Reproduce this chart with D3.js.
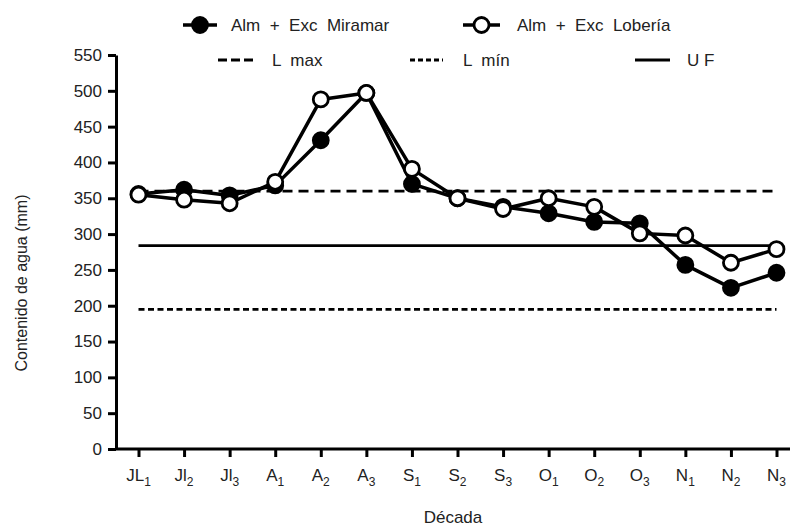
<!DOCTYPE html>
<html>
<head>
<meta charset="utf-8">
<script src="https://cdn.jsdelivr.net/npm/d3@7"></script>
<style>
  body { margin: 0; background: #fff; }
  text { font-family: "Liberation Sans Narrow", "Arial Narrow", "Liberation Sans", sans-serif; fill: #222; }
</style>
</head>
<body>
<div id="chart"></div>
<script>
// decades: [base letter, subscript]
const decadas = [["JL", "1"], ["Jl", "2"], ["Jl", "3"], ["A", "1"], ["A", "2"], ["A", "3"],
  ["S", "1"], ["S", "2"], ["S", "3"], ["O", "1"], ["O", "2"], ["O", "3"], ["N", "1"], ["N", "2"], ["N", "3"]];
const miramar = [356, 362, 354, 368, 431, 497, 370, 350, 338, 329, 317, 315, 257, 225, 246];
const loberia = [355, 348, 343, 373, 488, 497, 391, 350, 335, 350, 338, 301, 298, 260, 279];
const lMax = 360;
const lMin = 195;
const uf = 284;
const yTicks = [0, 50, 100, 150, 200, 250, 300, 350, 400, 450, 500, 550];

const width = 793, height = 527;
const margin = { top: 55, right: 3, bottom: 78, left: 116 };

const svg = d3.select("#chart").append("svg")
  .attr("width", width)
  .attr("height", height);

const keys = decadas.map((d) => d[0] + d[1]);

const x = d3.scalePoint()
  .domain(keys)
  .range([138.5, 776.5]);

const y = d3.scaleLinear()
  .domain([0, 550])
  .range([height - margin.bottom, margin.top]);

// reference lines
const refs = [
  { v: lMax, dash: "10,6" },
  { v: uf, dash: null },
  { v: lMin, dash: "6,3.5" },
];
svg.append("g").selectAll("line")
  .data(refs)
  .enter()
  .append("line")
  .attr("x1", x(keys[0]))
  .attr("x2", x(keys[keys.length - 1]))
  .attr("y1", (d) => y(d.v))
  .attr("y2", (d) => y(d.v))
  .attr("stroke", "#000")
  .attr("stroke-width", 2.8)
  .attr("stroke-dasharray", (d) => d.dash);

// axes
const yAxis = svg.append("g")
  .attr("transform", `translate(${margin.left},0)`)
  .call(d3.axisLeft(y).tickValues(yTicks).tickSize(8).tickSizeOuter(0).tickPadding(6));

const xAxis = svg.append("g")
  .attr("transform", `translate(0,${y(0)})`)
  .call(d3.axisBottom(x).tickSize(8).tickSizeOuter(0).tickFormat(() => ""));

xAxis.select(".domain").attr("d", `M${margin.left},0H${width - margin.right}`);

[yAxis, xAxis].forEach((g) => {
  g.select(".domain").attr("stroke-width", 3).attr("stroke", "#000");
  g.selectAll(".tick line").attr("stroke-width", 3).attr("stroke", "#000");
});
yAxis.selectAll(".tick text")
  .attr("font-size", 17)
  .attr("fill", "#222")
  .style("font-family", "'Liberation Sans Narrow', 'Arial Narrow', sans-serif");

// x labels with subscripts
const xl = svg.append("g").selectAll("text")
  .data(decadas)
  .enter()
  .append("text")
  .attr("x", (d) => x(d[0] + d[1]))
  .attr("y", y(0) + 32)
  .attr("text-anchor", "middle")
  .attr("font-size", 17);
xl.append("tspan").text((d) => d[0]);
xl.append("tspan").attr("dy", 5).attr("font-size", 12).text((d) => d[1]);

// axis titles
svg.append("text")
  .attr("x", (margin.left + width - margin.right) / 2)
  .attr("y", 523)
  .attr("text-anchor", "middle")
  .attr("font-size", 17)
  .text("Década");

svg.append("text")
  .attr("transform", "translate(27,283) rotate(-90)")
  .attr("text-anchor", "middle")
  .attr("font-size", 16)
  .text("Contenido de agua (mm)");

// series
const line = d3.line()
  .x((d, i) => x(keys[i]))
  .y((d) => y(d));

const series = [
  { values: miramar, fill: "#000" },
  { values: loberia, fill: "#fff" },
];

series.forEach((s) => {
  svg.append("path")
    .datum(s.values)
    .attr("d", line)
    .attr("fill", "none")
    .attr("stroke", "#000")
    .attr("stroke-width", 3.5)
    .attr("stroke-linejoin", "round");
  svg.append("g").selectAll("circle")
    .data(s.values)
    .enter()
    .append("circle")
    .attr("cx", (d, i) => x(keys[i]))
    .attr("cy", (d) => y(d))
    .attr("r", 7.5)
    .attr("fill", s.fill)
    .attr("stroke", "#000")
    .attr("stroke-width", 2.8);
});

// legend
const legend = svg.append("g");
const legendRows = [
  { x1: 183, x2: 217, y: 25, marker: "#000", text: "Alm  +  Exc  Miramar", tx: 231 },
  { x1: 463, x2: 500, y: 25, marker: "#fff", text: "Alm  +  Exc  Lobería", tx: 517 },
  { x1: 218, x2: 253, y: 60, dash: "9,4", text: "L  max", tx: 272 },
  { x1: 410, x2: 443, y: 60, dash: "5,3", text: "L  mín", tx: 463 },
  { x1: 635, x2: 670, y: 60, dash: null, text: "U F", tx: 687 },
];
legendRows.forEach((r) => {
  legend.append("line")
    .attr("x1", r.x1).attr("x2", r.x2)
    .attr("y1", r.y).attr("y2", r.y)
    .attr("stroke", "#000")
    .attr("stroke-width", r.marker ? 3.5 : 2.8)
    .attr("stroke-dasharray", r.dash || null);
  if (r.marker) {
    legend.append("circle")
      .attr("cx", (r.x1 + r.x2) / 2)
      .attr("cy", r.y)
      .attr("r", 7.5)
      .attr("fill", r.marker)
      .attr("stroke", "#000")
      .attr("stroke-width", 2.8);
  }
  legend.append("text")
    .attr("x", r.tx)
    .attr("y", r.y + 6)
    .attr("font-size", 17)
    .style("white-space", "pre")
    .text(r.text);
});
</script>
</body>
</html>
